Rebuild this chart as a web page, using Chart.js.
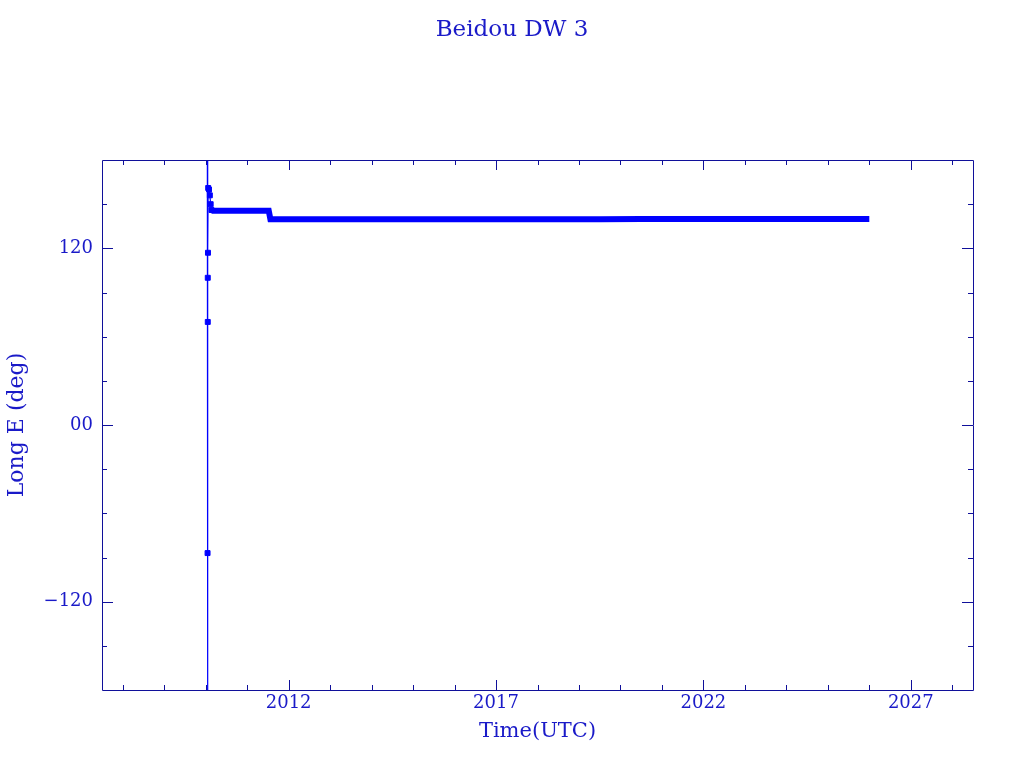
<!DOCTYPE html>
<html>
<head>
<meta charset="utf-8">
<script src="https://cdn.jsdelivr.net/npm/chart.js@4/dist/chart.umd.min.js"></script>
<style>
  html, body { margin: 0; padding: 0; background: #ffffff; }
  #wrap { width: 1024px; height: 768px; }
</style>
</head>
<body>
<div id="wrap"><canvas id="c" width="1024" height="768"></canvas></div>
<script>
// ---- data ----
const chartTitle = 'Beidou DW 3';
const xTitle = 'Time(UTC)';
const yTitle = 'Long E (deg)';

// launch / drift phase (decimal year, longitude east in degrees)
const launchYears = [2010.04, 2010.04, 2010.045, 2010.05, 2010.05, 2010.055, 2010.06, 2010.08, 2010.10, 2010.12, 2010.14];
const launchLong  = [185, -185, -87, 70, 100, 117, 161, 160, 156, 150, 146];

// station-keeping phase
const stationYears = [2010.14, 2010.6, 2011.0, 2011.52, 2011.56, 2012.5, 2013.5, 2014.5, 2015.5, 2016.5, 2017.5, 2018.5, 2019.5, 2020.5, 2021.5, 2022.5, 2023.5, 2024.5, 2025.5, 2026.0];
const stationLong  = [145.5, 145.5, 145.5, 145.5, 139.8, 139.8, 139.8, 139.8, 139.8, 139.8, 139.8, 139.8, 139.8, 140, 140, 140, 140, 140, 140, 140];

// axes
const xMin = 2007.5, xMax = 2028.5;
const yMin = -180, yMax = 180;
const xMinorYears = [2008, 2009, 2010, 2011, 2012, 2013, 2014, 2015, 2016, 2017, 2018, 2019, 2020, 2021, 2022, 2023, 2024, 2025, 2026, 2027, 2028];
const xMajorYears = [2012, 2017, 2022, 2027];
const yMinorTicks = [-150, -120, -90, -60, -30, 0, 30, 60, 90, 120, 150];
const yMajorTicks = [-120, 0, 120];
const yMajorLabels = ['\u2212120', '00', '120'];

const dataColor = '#0000ff';
const axisColor = '#10109a';
const textColor = '#1a1ac8';
const fontFamily = "'DejaVu Serif', 'Liberation Serif', serif";

const launchData = launchYears.map((x, i) => ({ x, y: launchLong[i] }));
const stationData = stationYears.map((x, i) => ({ x, y: stationLong[i] }));

const frameTicks = {
  id: 'frameTicks',
  afterDraw(chart) {
    const { ctx, chartArea: a } = chart;
    const xs = chart.scales.x, ys = chart.scales.y;
    ctx.save();
    ctx.strokeStyle = axisColor;
    ctx.lineWidth = 1;
    ctx.beginPath();
    ctx.rect(Math.round(a.left) + 0.5, Math.round(a.top) + 0.5, Math.round(a.right - a.left), Math.round(a.bottom - a.top));
    ctx.stroke();
    ctx.beginPath();
    xMinorYears.forEach(v => {
      const len = xMajorYears.includes(v) ? 10 : 5;
      const px = Math.round(xs.getPixelForValue(v)) + 0.5;
      ctx.moveTo(px, a.bottom); ctx.lineTo(px, a.bottom - len);
      ctx.moveTo(px, a.top); ctx.lineTo(px, a.top + len);
    });
    yMinorTicks.forEach(v => {
      const len = yMajorTicks.includes(v) ? 11 : 5;
      const py = Math.round(ys.getPixelForValue(v)) + 0.5;
      ctx.moveTo(a.left, py); ctx.lineTo(a.left + len, py);
      ctx.moveTo(a.right, py); ctx.lineTo(a.right - len, py);
    });
    ctx.stroke();
    ctx.restore();
  }
};

new Chart(document.getElementById('c'), {
  type: 'line',
  data: {
    datasets: [
      {
        data: stationData,
        borderColor: dataColor,
        backgroundColor: dataColor,
        borderWidth: 6,
        pointRadius: 0,
        tension: 0
      },
      {
        data: launchData,
        borderColor: dataColor,
        backgroundColor: dataColor,
        borderWidth: 1.2,
        pointStyle: 'rect',
        pointRadius: 3.5,
        pointBorderWidth: 1,
        pointBorderColor: dataColor,
        pointBackgroundColor: dataColor,
        tension: 0
      }
    ]
  },
  options: {
    responsive: false,
    animation: false,
    layout: { padding: { left: 0, right: 0, top: 0, bottom: 0 } },
    plugins: {
      legend: { display: false },
      tooltip: { enabled: false },
      title: {
        display: true,
        text: chartTitle,
        color: textColor,
        font: { family: fontFamily, size: 23, weight: 'normal', lineHeight: 1.2 },
        padding: { top: 16.2, bottom: 116.2 }
      }
    },
    scales: {
      x: {
        type: 'linear',
        min: xMin, max: xMax,
        border: { display: false },
        grid: { display: false, drawTicks: false },
        afterBuildTicks: s => { s.ticks = xMinorYears.map(v => ({ value: v })); },
        afterFit: s => { s.height = 78; },
        ticks: {
          autoSkip: false, maxRotation: 0, minRotation: 0,
          padding: 3,
          color: textColor,
          font: { family: fontFamily, size: 18 },
          callback: v => xMajorYears.includes(v) ? String(v) : ''
        },
        title: {
          display: true, text: xTitle, color: textColor,
          font: { family: fontFamily, size: 21, lineHeight: 1.2 },
          padding: { top: 0, bottom: 23.4 }
        }
      },
      y: {
        type: 'linear',
        position: 'left',
        min: yMin, max: yMax,
        border: { display: false },
        grid: { display: false, drawTicks: false },
        afterBuildTicks: s => { s.ticks = yMinorTicks.map(v => ({ value: v })); },
        afterFit: s => { s.width = 102; },
        ticks: {
          autoSkip: false,
          padding: 9,
          color: textColor,
          font: { family: fontFamily, size: 18 },
          callback: v => { const i = yMajorTicks.indexOf(v); return i >= 0 ? yMajorLabels[i] : ''; }
        },
        title: {
          display: true, text: yTitle, color: textColor,
          font: { family: fontFamily, size: 22, lineHeight: 1.2 },
          padding: { top: 3.8, bottom: 0 }
        }
      },
      yRight: {
        type: 'linear',
        position: 'right',
        min: yMin, max: yMax,
        border: { display: false },
        grid: { display: false, drawTicks: false },
        ticks: { display: false },
        afterFit: s => { s.width = 51; }
      }
    }
  },
  plugins: [frameTicks]
});
</script>
</body>
</html>
